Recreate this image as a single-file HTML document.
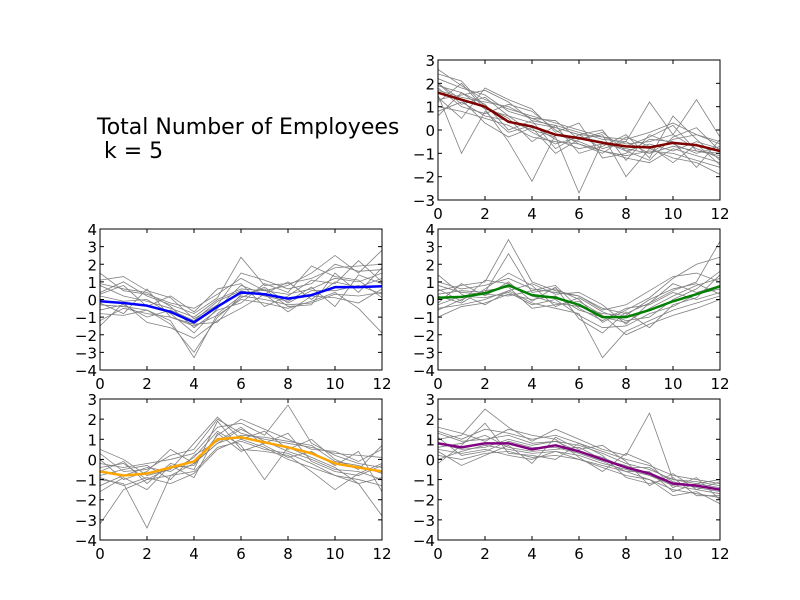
<!DOCTYPE html>
<html><head><meta charset="utf-8">
<style>
html,body{margin:0;padding:0;background:#fff;}
svg{display:block;font-family:"DejaVu Sans","Liberation Sans",sans-serif;}
</style></head>
<body>
<svg id="chart" width="800" height="600" viewBox="0 0 800 600">
<rect width="800" height="600" fill="#fff"/>
<text x="97" y="134" font-size="22" fill="#000">Total Number of Employees</text>
<text x="97" y="158" font-size="22" fill="#000" xml:space="preserve"> k = 5</text>
</svg>
<script>
const xCategories=[0,1,2,3,4,5,6,7,8,9,10,11,12];
const xTickLabels=[0,2,4,6,8,10,12];
const redCentroid=[1.6,1.3,1.0,0.35,0.15,-0.2,-0.35,-0.55,-0.7,-0.75,-0.55,-0.65,-0.9];
const blueCentroid=[-0.1,-0.2,-0.35,-0.7,-1.3,-0.4,0.4,0.3,0.05,0.25,0.7,0.7,0.75];
const greenCentroid=[0.1,0.15,0.35,0.8,0.25,0.1,-0.3,-1.0,-1.0,-0.6,-0.1,0.3,0.75];
const orangeCentroid=[-0.6,-0.8,-0.7,-0.4,-0.1,1.0,1.1,0.85,0.6,0.3,-0.2,-0.4,-0.6];
const purpleCentroid=[0.8,0.6,0.8,0.8,0.5,0.7,0.4,0.0,-0.4,-0.7,-1.2,-1.3,-1.5];
const redMembers=[
[2.2,1.8,1.5,0.8,0.5,0.1,-0.2,-0.3,-0.6,-0.5,-0.2,-0.8,-1.2],
[1.0,0.8,0.5,0.2,-0.3,-0.5,-0.6,-0.9,-1.1,-0.9,-1.0,-1.3,-1.6],
[2.6,1.9,1.3,0.9,0.6,0.3,0.0,-0.3,-0.4,-0.1,0.3,-0.2,-0.5],
[1.5,-1.0,0.8,-0.1,0.2,-0.4,-0.8,-0.6,-0.8,-1.0,-0.7,-0.9,-1.0],
[1.9,1.6,0.9,-0.5,-2.2,-0.2,-0.5,-0.9,-1.2,-1.4,-0.8,-1.1,-1.4],
[1.3,1.5,1.7,1.2,0.4,0.2,-0.1,-0.4,-0.5,-1.0,-0.4,-0.2,-0.6],
[0.8,1.2,0.6,0.4,0.0,-0.3,-2.7,-0.5,-0.9,-0.6,-0.9,-0.5,-0.8],
[2.0,1.1,1.4,0.6,0.3,0.1,-0.2,-0.8,-0.5,1.2,-0.2,1.3,-0.3],
[1.7,1.4,1.2,1.0,0.5,0.4,-0.4,-0.2,-2.0,-0.8,-1.2,-1.4,-1.9],
[1.2,2.0,0.9,0.6,-0.1,-0.6,-0.3,-0.5,-0.7,-0.3,0.2,-0.9,-1.1],
[1.8,1.0,0.7,1.1,0.8,0.0,-0.6,-1.0,-0.3,-0.7,-1.4,-0.6,-1.5],
[0.6,1.6,1.1,0.0,0.4,-0.8,-0.2,0.0,-1.3,-0.2,-0.6,-1.0,-0.7],
[2.4,2.1,1.0,0.5,-0.5,0.2,-1.0,-0.7,-0.2,-1.2,0.6,-0.4,-1.3],
[1.4,0.5,1.8,1.3,0.9,-0.1,0.3,-1.2,-1.0,-0.4,-0.5,-1.6,-0.4],
[2.0,1.3,0.3,-0.3,0.1,-1.0,-0.4,-0.1,-0.9,-1.3,-0.3,0.1,-0.9]];
const blueMembers=[
[0.8,0.2,-0.1,-0.5,-1.0,0.0,0.6,0.5,0.3,0.6,1.2,1.0,1.5],
[-0.8,-0.9,-0.6,-1.2,-3.3,-0.8,0.2,0.0,-0.3,-0.2,0.3,0.2,0.4],
[0.4,1.0,0.2,-0.3,-0.8,0.1,2.4,0.8,0.9,1.2,1.8,1.9,2.0],
[-1.2,-0.5,-0.8,-1.0,-1.5,-0.9,0.0,-0.2,-0.5,-0.1,0.4,-0.5,-1.9],
[1.5,0.5,0.3,-0.2,-0.5,0.3,1.2,0.5,0.8,1.5,2.5,1.5,2.8],
[-0.3,-0.4,-0.6,-1.4,-3.0,-1.0,0.1,0.7,-0.2,0.5,0.5,0.8,0.3],
[0.2,-0.1,0.0,-0.8,-1.9,-0.5,0.8,0.3,1.0,0.0,1.0,0.7,1.2],
[-0.6,-0.3,-1.0,-0.6,-1.2,-0.1,0.5,0.2,-0.1,0.7,-0.4,1.4,0.9],
[0.9,0.6,0.4,-0.4,-1.6,-0.6,-0.2,0.9,0.4,1.9,1.3,1.1,0.1],
[1.1,1.3,0.5,0.1,-1.1,-0.3,1.5,1.1,0.6,0.9,2.0,1.6,1.7],
[-1.5,-0.2,-1.3,-1.6,-2.2,-1.2,-0.5,0.3,-0.7,0.2,0.1,-0.2,0.6],
[0.3,0.8,-0.4,0.2,-0.7,0.6,0.9,-0.4,0.2,1.1,0.9,2.2,1.0],
[-0.2,-0.8,0.6,-1.0,-1.4,-1.3,0.3,0.6,-0.4,-0.3,1.5,0.4,1.8]];
const greenMembers=[
[0.5,0.8,1.0,3.4,1.0,0.5,0.2,-0.5,-0.8,-0.2,0.5,1.0,3.3],
[-0.5,-0.3,0.0,0.5,-0.2,-0.5,-0.8,-3.3,-1.8,-1.2,-0.6,-0.2,0.2],
[1.0,0.6,0.8,1.2,0.6,0.4,0.2,-0.6,-0.3,0.5,1.3,1.5,1.0],
[-0.3,0.2,0.1,0.4,-0.3,0.0,-0.9,-1.6,-1.5,-0.8,-0.4,0.3,0.6],
[0.2,-0.2,0.6,1.5,0.8,-0.4,0.1,-0.7,-1.2,-1.0,0.0,0.6,1.6],
[0.8,0.4,0.3,0.2,0.5,0.8,-0.5,-1.2,-0.5,-0.3,0.4,0.0,0.4],
[-0.6,0.0,0.5,0.7,-0.5,-0.3,-0.1,-0.9,-2.0,-1.4,-0.9,-0.5,0.0],
[0.3,0.5,0.4,2.6,0.4,0.6,0.0,-1.3,-0.6,0.1,1.2,2.0,2.4],
[-1.0,-0.4,-0.2,0.3,0.0,0.2,-0.6,-1.0,-1.3,-0.5,0.2,0.8,1.2],
[0.6,-0.1,1.1,0.9,0.2,-0.2,-0.4,-0.8,-0.9,0.0,0.6,0.9,0.3],
[-0.2,0.9,0.2,1.0,-0.1,0.7,-1.1,-1.9,-0.7,-1.6,-0.3,0.1,1.4],
[1.4,0.3,-0.3,0.5,0.9,0.3,0.4,-0.3,-1.4,-0.2,0.9,0.4,0.8]];
const orangeMembers=[
[-1.0,-1.2,-3.4,-0.8,-0.2,0.8,1.5,0.9,0.4,0.0,-0.5,-0.6,-1.0],
[-0.2,-0.4,-0.2,0.0,0.3,1.6,1.8,1.2,2.7,0.8,0.2,-0.2,-0.4],
[-3.2,-1.5,-1.0,-0.8,-0.6,0.6,0.9,0.5,0.3,-0.2,-0.8,-1.2,-2.8],
[0.3,-0.6,-0.5,0.2,0.5,2.0,1.3,1.0,0.8,0.6,0.3,0.2,0.1],
[-0.9,-1.3,-0.9,-1.2,-0.7,0.5,1.0,0.6,0.0,-0.4,-0.8,-1.0,-1.3],
[-0.4,-0.2,-1.0,-0.4,-0.3,1.2,2.0,1.5,1.0,0.5,0.4,-0.1,0.5],
[-1.3,-0.8,-0.4,-0.6,0.1,1.4,0.7,-1.0,0.6,0.1,-0.4,-1.2,-0.9],
[0.0,-1.0,-0.6,0.5,-0.2,0.8,1.2,1.1,0.9,0.7,-0.1,-0.3,-0.7],
[-0.6,-0.1,-1.2,-0.2,-0.5,1.9,0.5,0.4,0.2,-0.6,-1.5,-0.7,-0.2],
[-0.8,-0.5,-0.3,-1.0,0.2,0.9,1.6,0.7,0.1,0.4,-0.3,0.4,-1.6],
[-1.6,-0.9,-1.5,-0.3,-0.9,1.3,0.4,0.8,1.3,-0.1,-0.6,-0.8,-0.3],
[0.5,0.0,-0.8,-0.5,0.8,2.1,1.0,1.4,0.5,1.0,0.0,-0.5,0.7]];
const purpleMembers=[
[1.4,1.0,1.5,1.3,1.0,1.2,0.8,0.4,0.0,-0.3,-0.8,-1.0,-1.2],
[0.2,0.0,0.3,0.4,0.1,0.2,0.0,-0.4,-0.8,-1.0,-1.5,-1.7,-1.9],
[1.0,1.2,2.5,1.6,0.9,1.5,1.0,0.5,0.2,2.3,-1.0,-1.1,-1.3],
[0.5,0.3,0.5,0.2,0.0,0.4,0.0,-0.3,-0.6,-1.0,-1.8,-1.6,-2.2],
[1.3,0.9,1.0,1.2,0.8,0.9,0.7,0.3,-0.2,-0.5,-1.0,-1.2,-1.0],
[0.0,0.4,0.7,0.5,0.3,0.4,0.2,-0.2,-0.5,-0.8,-1.3,-1.5,-1.7],
[0.8,0.5,0.6,1.0,0.7,0.9,0.4,0.1,-0.4,-0.4,-1.1,-1.4,-1.6],
[0.6,0.8,1.2,0.6,0.4,0.5,0.6,0.0,-0.3,-0.8,-1.2,-1.3,-1.5],
[1.1,0.2,0.4,0.9,0.6,0.6,0.3,-0.1,-0.6,-0.6,-1.6,-1.2,-1.4],
[-0.2,0.7,1.8,0.3,0.2,0.0,0.8,0.2,-0.9,-1.2,-0.9,-1.8,-1.8],
[1.6,1.3,0.9,1.5,1.2,1.0,0.1,-0.6,0.3,-0.2,-1.4,-0.9,-2.0],
[0.4,-0.3,0.2,0.7,-0.2,1.1,0.5,0.7,-0.1,-1.3,-0.7,-1.5,-1.1]];

const NS='http://www.w3.org/2000/svg';
const svg=document.getElementById('chart');
function mk(tag,attrs,parent){const e=document.createElementNS(NS,tag);for(const k in attrs)e.setAttribute(k,attrs[k]);(parent||svg).appendChild(e);return e;}

const panels=[
 {name:'cluster-red',x:438,y:60,w:282,h:140,ymin:-3,ymax:3,color:'#800000',c:redCentroid,m:redMembers},
 {name:'cluster-blue',x:100,y:229,w:282,h:141,ymin:-4,ymax:4,color:'#0000ff',c:blueCentroid,m:blueMembers},
 {name:'cluster-green',x:438,y:229,w:282,h:141,ymin:-4,ymax:4,color:'#008000',c:greenCentroid,m:greenMembers},
 {name:'cluster-orange',x:100,y:399,w:282,h:141,ymin:-4,ymax:3,color:'#ffa500',c:orangeCentroid,m:orangeMembers},
 {name:'cluster-purple',x:438,y:399,w:282,h:141,ymin:-4,ymax:3,color:'#800080',c:purpleCentroid,m:purpleMembers}
];
panels.forEach(p=>{
 const g=mk('g',{});
 
 
 const xs=v=>p.x+(v-0)/(12-0)*p.w;
 const ys=v=>p.y+(p.ymax-v)/(p.ymax-p.ymin)*p.h;
 const cid='clip-'+p.name;
 const cp=mk('clipPath',{id:cid},g);mk('rect',{x:p.x,y:p.y,width:p.w,height:p.h},cp);
 const lines=mk('g',{'clip-path':'url(#'+cid+')'},g);
 p.m.forEach(s=>{
  const pl=mk('polyline',{points:s.map((v,i)=>xs(xCategories[i])+','+ys(v)).join(' '),fill:'none',stroke:'#808080','stroke-width':0.8},lines);
  
  
 });
 const cl=mk('polyline',{points:p.c.map((v,i)=>xs(xCategories[i])+','+ys(v)).join(' '),fill:'none',stroke:p.color,'stroke-width':2.5,'stroke-linejoin':'round'},lines);
 
 
 mk('rect',{x:p.x,y:p.y,width:p.w,height:p.h,fill:'none',stroke:'#000','stroke-width':1},g);
 xTickLabels.forEach(t=>{
  const X=xs(t);
  mk('line',{x1:X,x2:X,y1:p.y+p.h,y2:p.y+p.h-4,stroke:'#000'},g);
  mk('line',{x1:X,x2:X,y1:p.y,y2:p.y+4,stroke:'#000'},g);
  const tx=mk('text',{x:X,y:p.y+p.h+19,'font-size':15,'text-anchor':'middle'},g);tx.textContent=t;
  
  
 });
 for(let t=p.ymin;t<=p.ymax;t++){
  const Y=ys(t);
  mk('line',{x1:p.x,x2:p.x+4,y1:Y,y2:Y,stroke:'#000'},g);
  mk('line',{x1:p.x+p.w,x2:p.x+p.w-4,y1:Y,y2:Y,stroke:'#000'},g);
  const ty=mk('text',{x:p.x-3,y:Y+6,'font-size':15,'text-anchor':'end'},g);ty.textContent=t<0?'\u2212'+(-t):t;
  
  
 }
});
</script>
</body></html>
